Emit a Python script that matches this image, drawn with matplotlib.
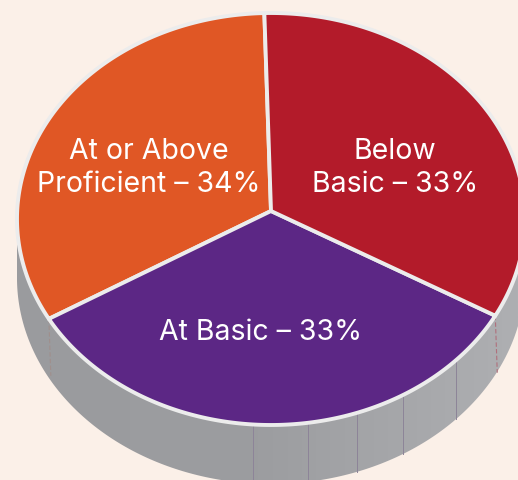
#!/usr/bin/env python3

import numpy as np
import matplotlib.pyplot as plt
from matplotlib.patches import Polygon

labels = ['At or Above\nProficient – 34%', 'At Basic – 33%', 'Below\nBasic – 33%']
# the slices as drawn, in degrees, they do not quite follow the printed shares
slice_degrees = [117.5, 123, 119.5]
colors = ['#e05725', '#5c2785', '#b31b2a']
start_angle = 91.5
rim_tick_degrees = [266, 278.4, 289.8, 301.3, 316.7]

CX, CY, RX, RY = 271, 219, 254, 206
HUB_X, HUB_Y = 271, 211
DEPTH = 59
EDGE = '#ececec'
BG = '#fbf0e8'


def arc(a0, a1, dy=0):
    t = np.radians(np.linspace(a0, a1, 200))
    return np.column_stack([CX + RX * np.cos(t), CY + dy - RY * np.sin(t)])


def main():
    plt.rcParams['font.family'] = ['Inter', 'DejaVu Sans']
    fig = plt.figure(figsize=(5.18, 4.8), dpi=100, facecolor=BG)
    ax = fig.add_axes([0, 0, 1, 1])
    ax.axis('off')

    # side of the pie, grey getting lighter to the right
    rim_pts = np.vstack([arc(180, 360), arc(360, 180, DEPTH)])
    rim = Polygon(rim_pts, closed=True, facecolor='none', edgecolor='none')
    ax.add_patch(rim)
    grad = ax.imshow(np.linspace(0, 1, 256).reshape(1, -1), extent=(0, 518, 480, 0),
                     cmap=plt.matplotlib.colors.LinearSegmentedColormap.from_list(
                         'rim', ['#9a9b9e', '#9c9da0', '#aeafb2']),
                     aspect='auto', zorder=1)
    grad.set_clip_path(rim)
    ax.set_xlim(0, 518)
    ax.set_ylim(480, 0)

    for deg in rim_tick_degrees:
        p = arc(deg, deg)[0]
        ax.plot([p[0], p[0]], [p[1], p[1] + DEPTH], color='#8d8498', lw=0.7, zorder=2)

    # seams under the two lower slice borders
    ends = np.cumsum(slice_degrees) + start_angle
    for deg, color in zip(ends[:2], ['#a08f8c', '#b0707c']):
        p = arc(deg, deg)[0]
        ax.plot([p[0], p[0] + 2], [p[1], p[1] + DEPTH - 2], color=color, lw=0.8,
                ls=(0, (4, 2)), zorder=2)

    # top of the pie
    angle = start_angle
    for deg, color in zip(slice_degrees, colors):
        pts = np.vstack([[HUB_X, HUB_Y], arc(angle, angle + deg)])
        ax.add_patch(Polygon(pts, closed=True, facecolor=color, edgecolor=EDGE,
                             lw=2.8, joinstyle='round', zorder=3))
        angle += deg

    ax.text(149, 168, labels[0], color='white', fontsize=20.5, ha='center', va='center',
            linespacing=1.3, zorder=4)
    ax.text(261, 332, labels[1], color='white', fontsize=20.5, ha='center', va='center', zorder=4)
    ax.text(395, 168, labels[2], color='white', fontsize=20.5, ha='center', va='center',
            linespacing=1.3, zorder=4)

    fig.savefig('out.png', dpi=100, facecolor=BG)


if __name__ == '__main__':
    main()
